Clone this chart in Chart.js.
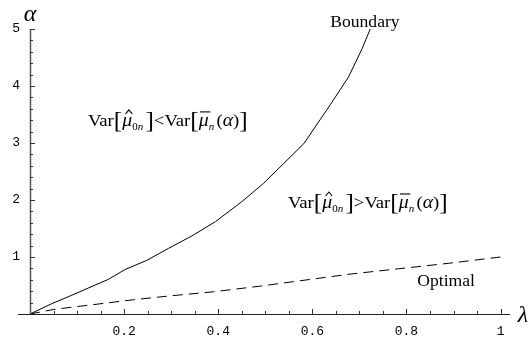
<!DOCTYPE html>
<html>
<head>
<meta charset="utf-8">
<style>
  html, body { margin: 0; padding: 0; background: #fff; }
  #wrap { width: 532px; height: 343px; }
</style>
</head>
<body>
<div id="wrap"><canvas id="regionChart"></canvas></div>
<script src="https://cdn.jsdelivr.net/npm/chart.js"></script>
<script>
// boundary curve (lambda, alpha)
const boundaryLambda = [0, 0.046, 0.089, 0.167, 0.202, 0.248, 0.294, 0.344, 0.394, 0.45, 0.496, 0.582, 0.638, 0.677, 0.706, 0.723];
const boundaryAlpha  = [0, 0.18, 0.33, 0.61, 0.78, 0.94, 1.15, 1.37, 1.62, 1.97, 2.29, 2.99, 3.67, 4.16, 4.66, 5.0];
// optimal alpha curve
const optimalLambda = [0, 0.05, 0.13, 0.22, 0.3, 0.39, 0.49, 0.68, 0.89, 1.0];
const optimalAlpha  = [0, 0.08, 0.16, 0.25, 0.32, 0.39, 0.49, 0.70, 0.89, 1.0];
// tick labels
const xTicks = [0.2, 0.4, 0.6, 0.8, 1];
const yTicks = [1, 2, 3, 4, 5];

const serif = '"Liberation Serif", "Times New Roman", serif';
const mono = '"Liberation Mono", "Courier New", monospace';
const stretch = 1.1; // the original text looks a bit wide

function toPoints(xs, ys) {
    return xs.map((x, i) => ({ x: x, y: ys[i] }));
}

// draws "Var[mu-hat_0n] op Var[mu-bar_n(alpha)]" starting at x0, baseline y
function drawVar(ctx, x0, y, op) {
    ctx.save();
    ctx.translate(x0, 0);
    ctx.scale(stretch, 1);
    let x = 0;
    const put = (text, font, dy) => {
        ctx.font = font;
        ctx.fillText(text, x, y + (dy || 0));
        const w = ctx.measureText(text).width;
        x += w;
        return w;
    };
    ctx.fillStyle = '#000';
    ctx.strokeStyle = '#000';
    ctx.textBaseline = 'alphabetic';
    ctx.textAlign = 'left';
    const normal = '17px ' + serif;
    const italic = 'italic 18px ' + serif;
    const brack = '23px ' + serif;
    const sub = '10px ' + serif;
    const subIt = 'italic 10px ' + serif;

    put('Var', normal);
    put('[', brack, 2);
    // mu with hat
    let mx = x;
    let mw = put('\u03bc', italic);
    ctx.beginPath();
    ctx.lineWidth = 1;
    ctx.moveTo(mx + 3, y - 12);
    ctx.lineTo(mx + mw / 2 + 1.5, y - 16);
    ctx.lineTo(mx + mw, y - 12);
    ctx.stroke();
    put('0', sub, 4);
    put('n', subIt, 4);
    x += 2;
    put(']', brack, 2);
    put(op, normal);
    put('Var', normal);
    put('[', brack, 2);
    // mu with bar
    mx = x;
    mw = put('\u03bc', italic);
    ctx.beginPath();
    ctx.lineWidth = 1.1;
    ctx.moveTo(mx + 1, y - 14);
    ctx.lineTo(mx + mw + 1.5, y - 14);
    ctx.stroke();
    put('n', subIt, 4);
    x += 2;
    put('(', normal);
    put('\u03b1', italic);
    put(')', normal);
    put(']', brack, 2);
    ctx.restore();
}

function wideText(ctx, text, x, y) {
    ctx.save();
    ctx.translate(x, y);
    ctx.scale(stretch, 1);
    ctx.fillText(text, 0, 0);
    ctx.restore();
}

const decorations = {
    id: 'decorations',
    afterDatasetsDraw(chart) {
        const ctx = chart.ctx;
        const xs = chart.scales.x;
        const ys = chart.scales.y;
        const x0 = xs.getPixelForValue(0);
        const y0 = ys.getPixelForValue(0);
        ctx.save();
        // axis lines
        ctx.strokeStyle = '#555';
        ctx.lineWidth = 1.5;
        ctx.beginPath();
        ctx.moveTo(x0 + 0.5, y0);
        ctx.lineTo(x0 + 0.5, ys.getPixelForValue(5));
        ctx.stroke();
        ctx.strokeStyle = '#222';
        ctx.lineWidth = 1;
        ctx.beginPath();
        ctx.moveTo(x0 - 12, y0 + 0.5);
        ctx.lineTo(xs.getPixelForValue(1.02), y0 + 0.5);
        ctx.stroke();
        // inward ticks
        ctx.strokeStyle = '#333';
        ctx.lineWidth = 1;
        for (let v = 0.05; v <= 1.0001; v += 0.05) {
            const px = Math.round(xs.getPixelForValue(v)) + 0.5;
            const major = Math.abs(v * 5 - Math.round(v * 5)) < 1e-6;
            ctx.beginPath();
            ctx.moveTo(px, y0);
            ctx.lineTo(px, y0 - (major ? 5 : 3));
            ctx.stroke();
        }
        for (let v = 0.2; v <= 5.0001; v += 0.2) {
            const py = Math.round(ys.getPixelForValue(v)) + 0.5;
            const major = Math.abs(v - Math.round(v)) < 1e-6;
            ctx.beginPath();
            ctx.moveTo(x0, py);
            ctx.lineTo(x0 + (major ? 5 : 3), py);
            ctx.stroke();
        }
        // axis titles
        ctx.fillStyle = '#000';
        ctx.font = 'italic 24px ' + serif;
        ctx.textAlign = 'center';
        ctx.textBaseline = 'alphabetic';
        ctx.fillText('\u03b1', 30, 21);
        ctx.fillText('\u03bb', 523, 322);
        // region labels
        ctx.font = '16px ' + serif;
        ctx.textAlign = 'left';
        wideText(ctx, 'Boundary', xs.getPixelForValue(0.638), ys.getPixelForValue(5.04));
        wideText(ctx, 'Optimal', xs.getPixelForValue(0.823), ys.getPixelForValue(0.49));
        drawVar(ctx, xs.getPixelForValue(0.123), ys.getPixelForValue(3.3), '<');
        drawVar(ctx, xs.getPixelForValue(0.548), ys.getPixelForValue(1.86), '>');
        ctx.restore();
    }
};

const ctx = document.getElementById('regionChart');
new Chart(ctx, {
    type: 'line',
    data: {
        datasets: [{
            label: 'Boundary',
            data: toPoints(boundaryLambda, boundaryAlpha),
            borderColor: '#000',
            borderWidth: 1,
            pointRadius: 0,
            tension: 0,
            fill: false
        }, {
            label: 'Optimal',
            data: toPoints(optimalLambda, optimalAlpha),
            borderColor: '#000',
            borderWidth: 1,
            borderDash: [10, 6],
            pointRadius: 0,
            tension: 0,
            fill: false
        }]
    },
    options: {
        responsive: true,
        maintainAspectRatio: false,
        animation: false,
        layout: { padding: { top: 29, right: 22, left: 0, bottom: 0 } },
        plugins: {
            legend: { display: false },
            tooltip: { enabled: false }
        },
        scales: {
            x: {
                type: 'linear',
                min: 0,
                max: 1.02,
                afterFit: s => { s.height = 29; },
                afterBuildTicks: s => { s.ticks = xTicks.map(v => ({ value: v })); },
                border: { display: false },
                grid: { display: false, drawTicks: false },
                ticks: {
                    padding: 10,
                    color: '#000',
                    maxRotation: 0,
                    autoSkip: false,
                    font: { family: mono, size: 13 },
                    callback: v => String(v)
                }
            },
            y: {
                type: 'linear',
                min: 0,
                max: 5,
                afterFit: s => { s.width = 30; },
                afterBuildTicks: s => { s.ticks = yTicks.map(v => ({ value: v })); },
                border: { display: false },
                grid: { display: false, drawTicks: false },
                ticks: {
                    padding: 10,
                    color: '#000',
                    autoSkip: false,
                    font: { family: mono, size: 13 },
                    callback: v => String(v)
                }
            }
        }
    },
    plugins: [decorations]
});
</script>
</body>
</html>
